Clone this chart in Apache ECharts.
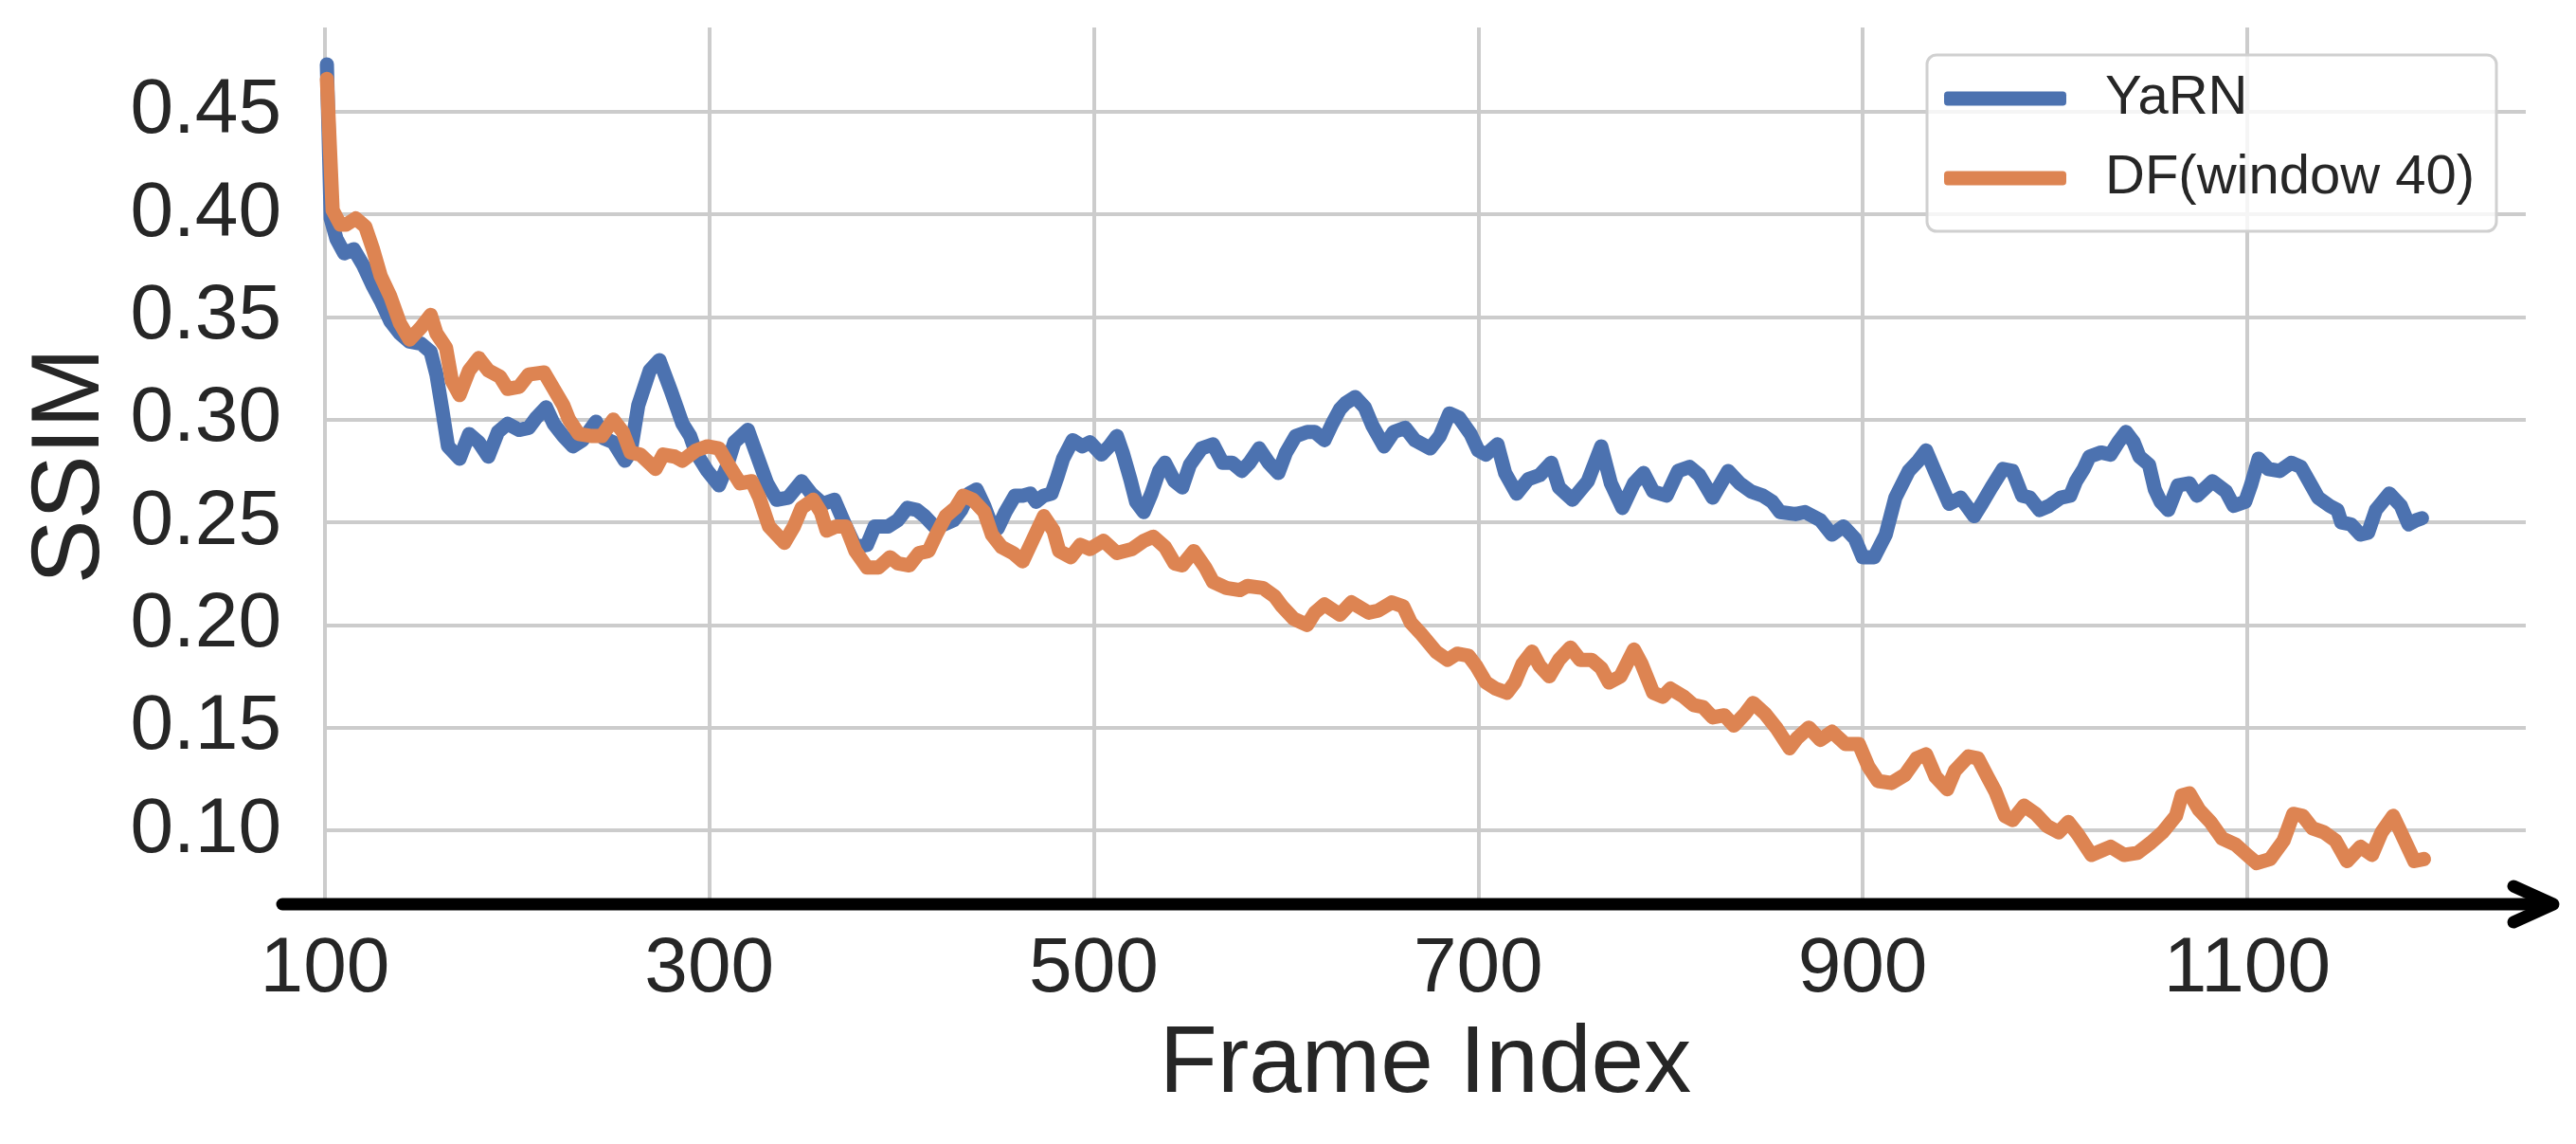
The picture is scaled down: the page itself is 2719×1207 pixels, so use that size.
<!DOCTYPE html>
<html>
<head>
<meta charset="utf-8">
<title>SSIM vs Frame Index</title>
<script src="https://cdn.jsdelivr.net/npm/echarts@6.0.0/dist/echarts.min.js"></script>
<style>
  html, body { margin: 0; padding: 0; background: #fff; }
  #main { width: 2719px; height: 1207px; }
</style>
</head>
<body>
<div id="main"></div>
<script>
// values
let yarnFrames = [101, 103, 106, 110, 115, 120, 125, 129, 134, 139, 144, 150, 155, 158, 161, 164, 170, 175, 180, 185,
    190, 195, 201, 206, 210, 215, 219, 224, 229, 234, 241, 245, 250, 256, 259, 263, 269, 274, 280, 286,
    290, 293, 299, 305, 309, 313, 320, 325, 330, 335, 341, 348, 353, 359, 365, 371, 376, 382, 386, 393,
    398, 403, 408, 412, 417, 422, 427, 431, 435, 439, 443, 447, 450, 454, 459, 463, 467, 470, 474, 478,
    481, 484, 489, 494, 498, 504, 508, 512, 515, 519, 522, 526, 530, 534, 537, 542, 546, 550, 556, 562,
    567, 572, 577, 581, 586, 591, 596, 600, 605, 611, 615, 620, 624, 628, 631, 636, 641, 645, 651, 656,
    662, 667, 675, 680, 685, 690, 696, 700, 704, 710, 714, 720, 726, 732, 738, 742, 749, 757, 764, 769,
    775, 781, 786, 791, 798, 804, 810, 815, 822, 830, 836, 842, 848, 853, 857, 865, 870, 878, 884, 890,
    896, 900, 906, 912, 917, 924, 929, 933, 938, 945, 951, 958, 962, 967, 973, 978, 983, 987, 992, 997,
    1003, 1008, 1011, 1015, 1018, 1024, 1029, 1033, 1037, 1041, 1044, 1049, 1052, 1055, 1059, 1064, 1070, 1074, 1082, 1089,
    1093, 1099, 1102, 1106, 1111, 1117, 1123, 1128, 1134, 1137, 1143, 1147, 1149, 1154, 1159, 1163, 1167, 1174, 1180, 1184,
    1188, 1191];
let yarnSsim = [0.473, 0.398, 0.388, 0.381, 0.383, 0.375, 0.365, 0.358, 0.348, 0.342, 0.338, 0.337, 0.333, 0.322, 0.305, 0.287, 0.281, 0.293, 0.289, 0.282,
    0.294, 0.298, 0.295, 0.296, 0.301, 0.306, 0.298, 0.292, 0.287, 0.290, 0.299, 0.291, 0.289, 0.280, 0.284, 0.307, 0.324, 0.329, 0.314, 0.298,
    0.292, 0.284, 0.275, 0.268, 0.277, 0.289, 0.295, 0.282, 0.269, 0.261, 0.262, 0.270, 0.264, 0.259, 0.261, 0.248, 0.238, 0.239, 0.248, 0.248,
    0.251, 0.257, 0.256, 0.253, 0.248, 0.249, 0.251, 0.256, 0.264, 0.266, 0.258, 0.248, 0.247, 0.255, 0.263, 0.263, 0.264, 0.260, 0.263, 0.264,
    0.272, 0.281, 0.290, 0.287, 0.289, 0.283, 0.287, 0.292, 0.284, 0.271, 0.260, 0.255, 0.264, 0.275, 0.279, 0.270, 0.267, 0.278, 0.286, 0.288,
    0.279, 0.279, 0.275, 0.279, 0.286, 0.279, 0.274, 0.284, 0.292, 0.294, 0.294, 0.290, 0.298, 0.305, 0.308, 0.311, 0.306, 0.297, 0.287, 0.294,
    0.296, 0.290, 0.286, 0.292, 0.303, 0.301, 0.293, 0.285, 0.283, 0.288, 0.274, 0.264, 0.271, 0.273, 0.279, 0.267, 0.261, 0.270, 0.287, 0.269,
    0.257, 0.269, 0.274, 0.265, 0.263, 0.275, 0.277, 0.273, 0.262, 0.275, 0.269, 0.265, 0.263, 0.260, 0.255, 0.254, 0.255, 0.251, 0.244, 0.248,
    0.242, 0.233, 0.233, 0.244, 0.262, 0.275, 0.280, 0.285, 0.274, 0.259, 0.262, 0.253, 0.259, 0.267, 0.276, 0.275, 0.263, 0.262, 0.256, 0.258,
    0.262, 0.263, 0.270, 0.276, 0.282, 0.284, 0.283, 0.289, 0.294, 0.289, 0.282, 0.278, 0.266, 0.260, 0.256, 0.268, 0.269, 0.263, 0.270, 0.265,
    0.258, 0.260, 0.268, 0.281, 0.276, 0.275, 0.279, 0.277, 0.267, 0.262, 0.258, 0.256, 0.250, 0.249, 0.244, 0.245, 0.256, 0.264, 0.258, 0.249,
    0.251, 0.252];

let dfFrames = [101, 104, 108, 111, 116, 121, 125, 129, 134, 139, 144, 150, 155, 158, 163, 166, 170, 175, 180, 185,
    191, 195, 201, 206, 214, 219, 224, 227, 232, 239, 244, 250, 255, 259, 264, 272, 276, 282, 286, 293,
    299, 305, 310, 316, 322, 326, 331, 339, 344, 348, 354, 358, 361, 366, 371, 376, 382, 388, 394, 398,
    404, 409, 414, 418, 423, 428, 432, 437, 443, 447, 452, 458, 463, 468, 474, 479, 482, 488, 493, 498,
    505, 512, 520, 526, 531, 537, 542, 546, 552, 558, 562, 569, 576, 580, 588, 594, 598, 604, 611, 615,
    620, 628, 634, 643, 648, 655, 661, 665, 670, 678, 684, 689, 695, 699, 704, 709, 715, 719, 723, 728,
    732, 737, 742, 748, 753, 759, 764, 768, 774, 781, 785, 791, 796, 800, 807, 812, 817, 822, 828, 833,
    839, 843, 849, 855, 862, 866, 872, 878, 884, 891, 898, 903, 908, 915, 922, 928, 933, 938, 944, 948,
    955, 960, 965, 969, 974, 978, 984, 990, 996, 1002, 1007, 1012, 1019, 1029, 1036, 1043, 1050, 1056, 1063, 1066,
    1070, 1075, 1081, 1087, 1094, 1100, 1105, 1112, 1119, 1124, 1129, 1134, 1140, 1146, 1152, 1159, 1165, 1170, 1176, 1181,
    1187, 1192];
let dfSsim = [0.466, 0.402, 0.395, 0.395, 0.398, 0.394, 0.383, 0.370, 0.360, 0.347, 0.339, 0.345, 0.351, 0.342, 0.335, 0.319, 0.312, 0.324, 0.330, 0.324,
    0.321, 0.315, 0.316, 0.322, 0.323, 0.315, 0.307, 0.300, 0.293, 0.292, 0.292, 0.300, 0.294, 0.284, 0.283, 0.276, 0.283, 0.282, 0.280, 0.285,
    0.287, 0.286, 0.278, 0.269, 0.270, 0.262, 0.248, 0.240, 0.248, 0.257, 0.261, 0.255, 0.246, 0.248, 0.248, 0.236, 0.228, 0.228, 0.233, 0.230,
    0.229, 0.235, 0.236, 0.244, 0.253, 0.257, 0.263, 0.261, 0.255, 0.244, 0.238, 0.235, 0.231, 0.241, 0.253, 0.246, 0.236, 0.233, 0.239, 0.237,
    0.241, 0.235, 0.237, 0.241, 0.243, 0.238, 0.230, 0.229, 0.236, 0.228, 0.221, 0.218, 0.217, 0.219, 0.218, 0.214, 0.209, 0.203, 0.200, 0.206,
    0.210, 0.205, 0.211, 0.206, 0.207, 0.211, 0.209, 0.201, 0.196, 0.187, 0.183, 0.186, 0.185, 0.180, 0.172, 0.169, 0.167, 0.172, 0.181, 0.187,
    0.180, 0.175, 0.183, 0.189, 0.183, 0.183, 0.179, 0.172, 0.175, 0.188, 0.181, 0.167, 0.165, 0.169, 0.165, 0.161, 0.160, 0.155, 0.156, 0.151,
    0.157, 0.162, 0.157, 0.150, 0.140, 0.145, 0.150, 0.144, 0.148, 0.142, 0.142, 0.131, 0.124, 0.123, 0.127, 0.135, 0.137, 0.126, 0.120, 0.129,
    0.136, 0.135, 0.126, 0.119, 0.107, 0.105, 0.112, 0.108, 0.102, 0.099, 0.104, 0.098, 0.088, 0.092, 0.088, 0.089, 0.094, 0.099, 0.107, 0.117,
    0.118, 0.110, 0.104, 0.096, 0.093, 0.088, 0.084, 0.086, 0.095, 0.108, 0.107, 0.101, 0.099, 0.095, 0.085, 0.092, 0.088, 0.099, 0.107, 0.097,
    0.085, 0.086];

let xTicks = [100, 300, 500, 700, 900, 1100];
let yTicks = [0.10, 0.15, 0.20, 0.25, 0.30, 0.35, 0.40, 0.45];
let seriesNames = ['YaRN', 'DF(window 40)'];
let colors = ['#4C72B0', '#DD8452'];

// plot box in pixels
const W = 2719, H = 1207;
const gridLeft = 343, gridRight = 53, gridTop = 29, gridBottom = 253;
const font = 'Liberation Sans, Arial, Helvetica, sans-serif';
const ink = '#262626';
const lineW = 15;

function pairs(xs, ys) {
    return xs.map((x, i) => [x, ys[i]]);
}

var myChart = echarts.init(document.getElementById('main'), null, { renderer: 'canvas' });

// black arrow under the plot
let axisY = H - gridBottom;
let shaftStart = gridLeft - 45;
let tipX = W - gridRight + 29;

var option = {
    backgroundColor: '#ffffff',
    animation: false,
    textStyle: { fontFamily: font, color: ink },
    color: colors,
    grid: { left: gridLeft, right: gridRight, top: gridTop, bottom: gridBottom },
    legend: {
        data: seriesNames,
        orient: 'vertical',
        left: 2034,
        top: 58,
        padding: [15, 23, 25, 18],
        itemGap: 22,
        itemWidth: 129,
        itemHeight: lineW,
        icon: 'roundRect',
        backgroundColor: 'rgba(255,255,255,0.8)',
        borderColor: '#d0d0d0',
        borderWidth: 3,
        borderRadius: 10,
        textStyle: {
            fontFamily: font,
            fontSize: 58,
            color: ink,
            lineHeight: 62,
            padding: [0, 0, 0, 36]
        }
    },
    xAxis: {
        type: 'value',
        min: 100,
        max: 1245,
        name: 'Frame Index',
        nameLocation: 'middle',
        nameGap: 120,
        nameTextStyle: { fontFamily: font, fontSize: 100, color: ink },
        axisLine: { show: false },
        axisTick: { show: false, customValues: xTicks },
        axisLabel: {
            customValues: xTicks,
            fontFamily: font,
            fontSize: 82,
            color: ink,
            margin: 28,
            formatter: (v) => String(v)
        },
        splitLine: { show: true, lineStyle: { color: '#cccccc', width: 4 } }
    },
    yAxis: {
        type: 'value',
        min: 0.064,
        max: 0.491,
        name: 'SSIM',
        nameLocation: 'middle',
        nameGap: 213,
        nameTextStyle: { fontFamily: font, fontSize: 102, color: ink },
        axisLine: { show: false },
        axisTick: { show: false, customValues: yTicks },
        axisLabel: {
            customValues: yTicks,
            fontFamily: font,
            fontSize: 82,
            color: ink,
            margin: 46,
            formatter: (v) => v.toFixed(2)
        },
        splitLine: { show: true, lineStyle: { color: '#cccccc', width: 4 } }
    },
    series: [
        {
            name: seriesNames[0],
            type: 'line',
            symbol: 'none',
            data: pairs(yarnFrames, yarnSsim),
            lineStyle: { width: lineW, color: colors[0], cap: 'round', join: 'round' },
            z: 3
        },
        {
            name: seriesNames[1],
            type: 'line',
            symbol: 'none',
            data: pairs(dfFrames, dfSsim),
            lineStyle: { width: lineW, color: colors[1], cap: 'round', join: 'round' },
            z: 4
        }
    ],
    graphic: [
        {
            type: 'line',
            z: 100,
            shape: { x1: shaftStart, y1: axisY, x2: tipX - 4, y2: axisY },
            style: { stroke: '#000', lineWidth: 13, lineCap: 'round' }
        },
        {
            type: 'polyline',
            z: 100,
            shape: { points: [[tipX - 42, axisY - 19], [tipX, axisY], [tipX - 42, axisY + 19]] },
            style: { stroke: '#000', lineWidth: 13, lineCap: 'round', lineJoin: 'round', fill: null }
        }
    ]
};

myChart.setOption(option);
</script>
</body>
</html>
